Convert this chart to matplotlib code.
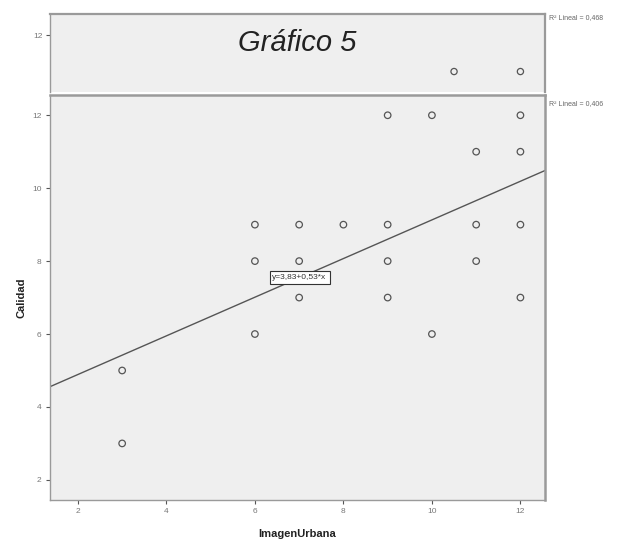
import numpy as np
import matplotlib
matplotlib.use("Agg")
import matplotlib.pyplot as plt

plt.rcParams['font.family'] = ['Liberation Sans', 'DejaVu Sans']

# Main scatter: Imagen Urbana vs Calidad
imagen_urbana = [3, 3, 6, 6, 6, 7, 7, 7, 8, 9, 9, 9, 9, 10, 10, 11, 11, 11, 12, 12, 12, 12]
calidad       = [5, 3, 9, 8, 6, 9, 8, 7, 9, 12, 9, 8, 7, 12, 6, 11, 9, 8, 12, 11, 9, 7]

# Fitted line shown in the annotation box
intercept = 3.83
slope = 0.53
r2_main = "0,406"

# Upper strip (previous chart fragment)
top_x = [10.5, 12]
top_y = [11, 11]
r2_top = "0,468"

x_ticks = [2, 4, 6, 8, 10, 12]
y_ticks = [2, 4, 6, 8, 10, 12]

bg = '#efefef'
frame = '#9a9a9a'

fig = plt.figure(figsize=(6.3, 5.44), dpi=100)

# --- upper strip ---
ax_top = fig.add_axes([0.0794, 0.831, 0.786, 0.143])
ax_top.set_facecolor(bg)
ax_top.scatter(top_x, top_y, s=20, facecolors='none', edgecolors='#555555', linewidths=0.9)
ax_top.set_xlim(1.37, 12.56)
ax_top.set_ylim(10.44, 12.575)
ax_top.set_xticks([])
ax_top.set_yticks([12])
ax_top.set_yticklabels(['12'], fontsize=6, color='#777777')
ax_top.tick_params(axis='y', length=3, width=0.8, color='#555555', pad=2)
for side, sp in ax_top.spines.items():
    sp.set_color(frame)
    sp.set_linewidth(1.6 if side in ('top', 'right') else 1.0)
ax_top.spines['bottom'].set_visible(False)
ax_top.text(0.5, 0.63, 'Gráfico 5', transform=ax_top.transAxes, ha='center', va='center',
            fontsize=21, style='italic', color='#222222')
fig.text(0.872, 0.968, 'R² Lineal = ' + r2_top, fontsize=5, color='#666666', va='center')

# --- main chart ---
ax = fig.add_axes([0.0794, 0.081, 0.786, 0.744])
ax.set_facecolor(bg)
ax.scatter(imagen_urbana, calidad, s=22, facecolors='none', edgecolors='#555555',
           linewidths=0.9, zorder=3)

xlim = (1.37, 12.56)
ylim = (1.45, 12.55)
xs = np.array(xlim)
ax.plot(xs, intercept + slope * xs, color='#555555', lw=1.0, zorder=2)
ax.set_xlim(*xlim)
ax.set_ylim(*ylim)

ax.text(7.01, 7.56, 'y=3,83+0,53*x', fontsize=6, ha='center', va='center', color='#333333',
        bbox=dict(boxstyle='square,pad=0.35', facecolor='white', edgecolor='#333333', lw=0.8),
        zorder=4)

ax.set_xticks(x_ticks)
ax.set_yticks(y_ticks)
ax.tick_params(axis='both', labelsize=6, labelcolor='#777777', length=3, width=0.8,
               color='#555555', pad=3)
for side, sp in ax.spines.items():
    sp.set_color(frame)
    sp.set_linewidth(1.8 if side in ('top', 'right') else 1.0)

ax.set_xlabel('ImagenUrbana', fontsize=8, fontweight='bold', color='#222222', labelpad=10)
ax.set_ylabel('Calidad', fontsize=8, fontweight='bold', color='#222222', labelpad=4)

fig.text(0.872, 0.81, 'R² Lineal = ' + r2_main, fontsize=5, color='#666666', va='center')

fig.savefig('out.png', dpi=100)
